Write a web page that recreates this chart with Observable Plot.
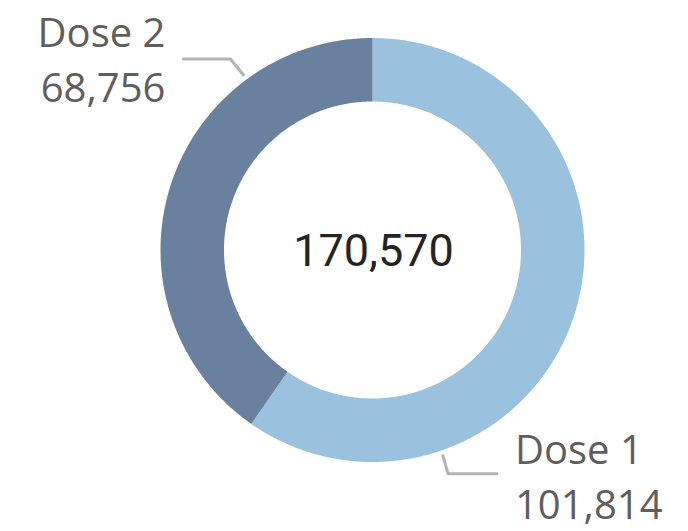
<!DOCTYPE html>
<html>
<head>
<meta charset="utf-8">
<script src="https://cdn.jsdelivr.net/npm/d3@7"></script>
<script src="https://cdn.jsdelivr.net/npm/@observablehq/plot@0.6"></script>
<style>
  html, body { margin: 0; padding: 0; background: #fff; }
</style>
</head>
<body>
<div id="chart"></div>
<script>
// ---- data ----
const categories = ["Dose 1", "Dose 2"];
const values = [101814, 68756];
const colors = ["#9ac1dd", "#6a809f"];

// ---- layout (pixel units relative to donut centre, y downward) ----
const W = 688, H = 531;
const cx = 372, cy = 249.5;
const R = 212, r = 148.5;
// label leader layout per category: angle on ring (deg, clockwise from top), elbow offset, horizontal run
const labelLayout = {
  "Dose 1": {angle: 161.1, edx: 5, edy: 18, run: 49, side: 1, nameDy: -10, valueDy: 45},
  "Dose 2": {angle: 323.6, edx: -13, edy: -16, run: 47, side: -1, nameDy: -12, valueDy: 43}
};

const total = d3.sum(values);
const fmt = d3.format(",");

// build slice polygons (clockwise from 12 o'clock)
const slices = [];
let acc = 0;
categories.forEach((c, i) => {
  const a0 = acc / total * 2 * Math.PI;
  acc += values[i];
  const a1 = acc / total * 2 * Math.PI;
  const n = Math.max(2, Math.ceil((a1 - a0) / (Math.PI / 360)));
  const pts = [];
  for (let k = 0; k <= n; k++) {
    const a = a0 + (a1 - a0) * k / n;
    pts.push({cat: c, x: R * Math.sin(a), y: -R * Math.cos(a)});
  }
  for (let k = n; k >= 0; k--) {
    const a = a0 + (a1 - a0) * k / n;
    pts.push({cat: c, x: r * Math.sin(a), y: -r * Math.cos(a)});
  }
  slices.push(...pts);
});

// leaders and labels
const leaders = [];
const labels = [];
categories.forEach((c, i) => {
  const L = labelLayout[c];
  const a = L.angle * Math.PI / 180;
  const rs = R + 5.5;
  const x0 = rs * Math.sin(a), y0 = -rs * Math.cos(a);
  const x1 = x0 + L.edx, y1 = y0 + L.edy;
  const x2 = x1 + L.side * L.run;
  leaders.push({cat: c, x: x0, y: y0}, {cat: c, x: x1, y: y1}, {cat: c, x: x2, y: y1});
  const tx = x2 + L.side * 18;
  labels.push({text: c, x: tx, y: y1 + L.nameDy, anchor: L.side > 0 ? "start" : "end"});
  labels.push({text: fmt(values[i]), x: tx, y: y1 + L.valueDy, anchor: L.side > 0 ? "start" : "end"});
});

const chart = Plot.plot({
  width: W,
  height: H,
  margin: 0,
  x: {domain: [-cx, W - cx], range: [0, W], axis: null},
  y: {domain: [-cy, H - cy], range: [0, H], axis: null},
  color: {domain: categories, range: colors},
  marks: [
    Plot.line(slices, {x: "x", y: "y", z: "cat", fill: "cat", stroke: "none", curve: "linear-closed"}),
    Plot.line(leaders, {x: "x", y: "y", z: "cat", stroke: "#b3b3b3", strokeWidth: 3, strokeLinejoin: "miter"}),
    Plot.text(labels.filter(d => d.anchor === "end"), {x: "x", y: "y", text: "text", textAnchor: "end", lineAnchor: "bottom", fontSize: 40, fontFamily: "Open Sans", fill: "#605e5c"}),
    Plot.text(labels.filter(d => d.anchor === "start"), {x: "x", y: "y", text: "text", textAnchor: "start", lineAnchor: "bottom", fontSize: 40, fontFamily: "Open Sans", fill: "#605e5c"}),
    Plot.text([fmt(total)], {x: () => 1, y: () => 16, text: d => d, textAnchor: "middle", lineAnchor: "bottom", fontSize: 45, fontFamily: "Roboto", fill: "#252423"})
  ]
});
document.getElementById("chart").append(chart);
</script>
</body>
</html>
